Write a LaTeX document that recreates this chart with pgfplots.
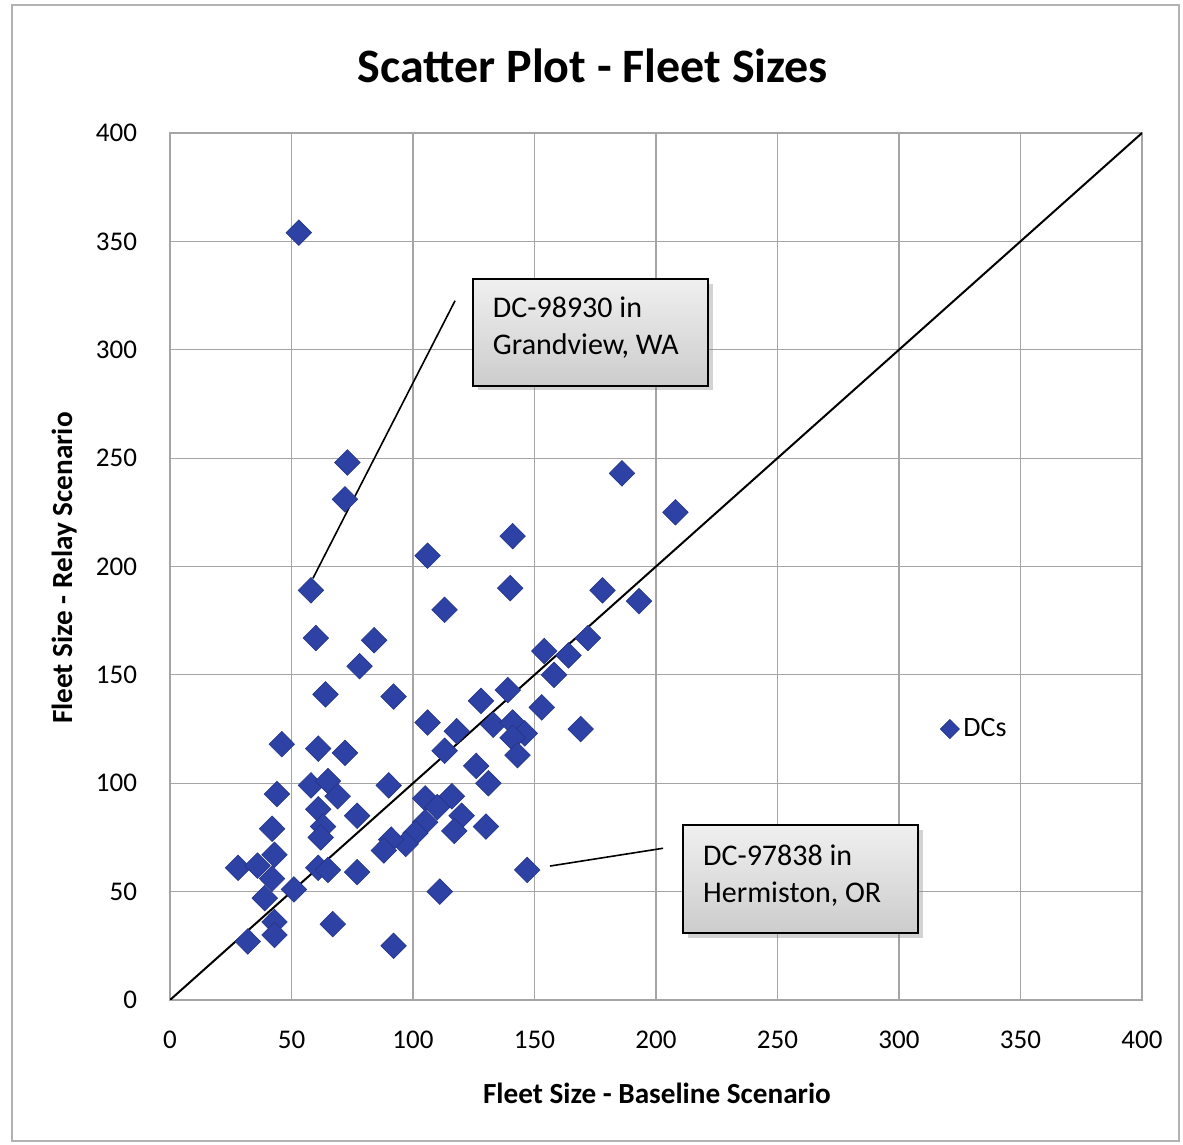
\documentclass[border=0pt]{standalone}
\usepackage{fontspec}
\setmainfont{Carlito}
\usepackage{pgfplots}
\pgfplotsset{compat=1.18}
\usetikzlibrary{shadows}
\definecolor{dcblue}{RGB}{46,66,166}
\definecolor{gridgray}{RGB}{165,165,165}
\begin{document}
\begin{tikzpicture}[x=1pt,y=1pt]
\useasboundingbox (0,0) rectangle (591.5,572.5);
\draw[gray!60, line width=0.6pt] (6,2) rectangle (589.5,570);
\node[font=\fontsize{24}{28}\selectfont\bfseries] at (296.5,539.5) {Scatter Plot - Fleet Sizes};
\node[font=\fontsize{14.6}{17}\selectfont\bfseries] at (328.5,26) {Fleet Size - Baseline Scenario};
\node[font=\fontsize{14.6}{17}\selectfont\bfseries, rotate=90] at (32.5,288.5) {Fleet Size - Relay Scenario};
\begin{axis}[
  at={(85pt,72.5pt)}, anchor=south west,
  scale only axis, width=486pt, height=433.5pt,
  xmin=0, xmax=400, ymin=0, ymax=400,
  xtick distance=50, ytick distance=50,
  grid=major,
  grid style={gridgray, line width=0.6pt},
  axis line style={gridgray, line width=0.6pt},
  major tick length=0pt,
  /pgf/number format/assume math mode=true,
  tick label style={font=\fontsize{13.5}{16}\selectfont},
  xticklabel style={yshift=-12pt},
  yticklabel style={xshift=-13pt},
  legend style={at={(axis cs:316,125)}, anchor=west, draw=none, fill=none,
    font=\fontsize{14}{16}\selectfont, inner sep=1pt},
  legend cell align=left,
  legend image post style={scale=0.75},
]
\addplot[only marks, mark=diamond*, mark size=6.4pt,
  mark options={xscale=1.33, fill=dcblue, draw=dcblue!80!black, line width=0.3pt}]
coordinates {
(58,189)(140,190)(113,180)(60,167)(84,166)(78,154)(154,161)(164,159)(158,150)
(64,141)(92,140)(128,138)(139,143)(153,135)(169,125)(106,128)(118,124)(133,127)
(141,128)(146,123)(141,121)(143,113)(113,115)(126,108)(131,100)(46,118)(61,116)
(72,114)(186,243)(208,225)(141,214)(106,205)(178,189)(193,184)(172,167)(90,99)
(58,99)(65,101)(69,94)(44,95)(61,88)(63,80)(62,75)(77,85)(42,79)(43,67)(28,61)
(36,62)(42,56)(39,47)(51,51)(43,36)(43,30)(32,27)(67,35)(92,25)(111,50)(147,60)
(61,61)(65,60)(77,59)(105,93)(110,89)(116,94)(120,85)(117,78)(130,80)(105,82)
(101,77)(97,72)(91,74)(88,69)(53,354)(73,248)(72,231)
};
\addlegendentry{DCs}
\addplot[black, line width=1pt, no marks, forget plot] coordinates {(0,0)(400,400)};
\draw[black, line width=0.8pt] (axis cs:117.3,322.6) -- (axis cs:58.8,194.5);
\draw[black, line width=0.8pt] (axis cs:202.9,70) -- (axis cs:156.4,61.8);
\draw[black, line width=1.1pt, top color=gray!12, bottom color=gray!40, drop shadow={opacity=0.35}]
  (axis cs:124.7,332.7) rectangle (axis cs:221.4,283.4);
\node[anchor=west, align=left, font=\fontsize{15}{18.5}\selectfont] at (axis cs:130,310.4) {DC-98930 in\\Grandview, WA};
\draw[black, line width=1.1pt, top color=gray!12, bottom color=gray!40, drop shadow={opacity=0.35}]
  (axis cs:211,80.6) rectangle (axis cs:307.8,30.9);
\node[anchor=west, align=left, font=\fontsize{15}{18.5}\selectfont] at (axis cs:216.5,57.6) {DC-97838 in\\Hermiston, OR};
\end{axis}
\end{tikzpicture}
\end{document}
